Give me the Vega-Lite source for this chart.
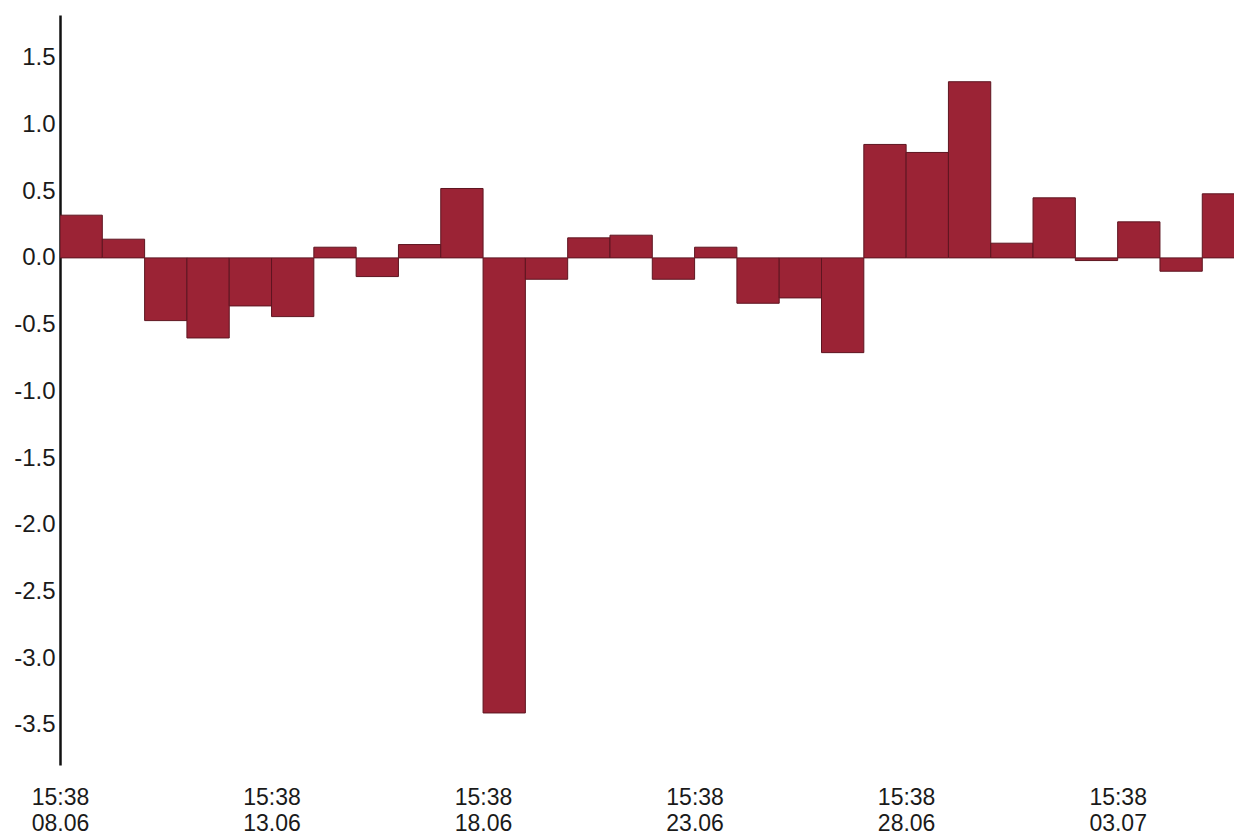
{
  "$schema": "https://vega.github.io/schema/vega-lite/v6.json",
  "width": 1174,
  "height": 750,
  "autosize": {"type": "none"},
  "padding": {"left": 60, "top": 15, "right": 0, "bottom": 69},
  "background": "white",
  "config": {"view": {"stroke": null}, "font": "Liberation Sans"},
  "data": {"values": [
    {"start": "2020-06-08T15:38", "end": "2020-06-09T15:38", "value": 0.32},
    {"start": "2020-06-09T15:38", "end": "2020-06-10T15:38", "value": 0.14},
    {"start": "2020-06-10T15:38", "end": "2020-06-11T15:38", "value": -0.47},
    {"start": "2020-06-11T15:38", "end": "2020-06-12T15:38", "value": -0.60},
    {"start": "2020-06-12T15:38", "end": "2020-06-13T15:38", "value": -0.36},
    {"start": "2020-06-13T15:38", "end": "2020-06-14T15:38", "value": -0.44},
    {"start": "2020-06-14T15:38", "end": "2020-06-15T15:38", "value": 0.08},
    {"start": "2020-06-15T15:38", "end": "2020-06-16T15:38", "value": -0.14},
    {"start": "2020-06-16T15:38", "end": "2020-06-17T15:38", "value": 0.10},
    {"start": "2020-06-17T15:38", "end": "2020-06-18T15:38", "value": 0.52},
    {"start": "2020-06-18T15:38", "end": "2020-06-19T15:38", "value": -3.41},
    {"start": "2020-06-19T15:38", "end": "2020-06-20T15:38", "value": -0.16},
    {"start": "2020-06-20T15:38", "end": "2020-06-21T15:38", "value": 0.15},
    {"start": "2020-06-21T15:38", "end": "2020-06-22T15:38", "value": 0.17},
    {"start": "2020-06-22T15:38", "end": "2020-06-23T15:38", "value": -0.16},
    {"start": "2020-06-23T15:38", "end": "2020-06-24T15:38", "value": 0.08},
    {"start": "2020-06-24T15:38", "end": "2020-06-25T15:38", "value": -0.34},
    {"start": "2020-06-25T15:38", "end": "2020-06-26T15:38", "value": -0.30},
    {"start": "2020-06-26T15:38", "end": "2020-06-27T15:38", "value": -0.71},
    {"start": "2020-06-27T15:38", "end": "2020-06-28T15:38", "value": 0.85},
    {"start": "2020-06-28T15:38", "end": "2020-06-29T15:38", "value": 0.79},
    {"start": "2020-06-29T15:38", "end": "2020-06-30T15:38", "value": 1.32},
    {"start": "2020-06-30T15:38", "end": "2020-07-01T15:38", "value": 0.11},
    {"start": "2020-07-01T15:38", "end": "2020-07-02T15:38", "value": 0.45},
    {"start": "2020-07-02T15:38", "end": "2020-07-03T15:38", "value": -0.02},
    {"start": "2020-07-03T15:38", "end": "2020-07-04T15:38", "value": 0.27},
    {"start": "2020-07-04T15:38", "end": "2020-07-05T15:38", "value": -0.10},
    {"start": "2020-07-05T15:38", "end": "2020-07-06T15:38", "value": 0.48}
  ]},
  "mark": {"type": "rect", "clip": true, "fill": "#9b2335", "stroke": "#5e1520", "strokeWidth": 1},
  "encoding": {
    "x": {
      "field": "start", "type": "temporal", "title": null,
      "scale": {"domain": [
        {"year": 2020, "month": 6, "date": 8, "hours": 15, "minutes": 38},
        {"year": 2020, "month": 7, "date": 6, "hours": 9, "minutes": 38}
      ]},
      "axis": {
        "domain": false, "ticks": false, "grid": false,
        "values": [
          {"year": 2020, "month": 6, "date": 8, "hours": 15, "minutes": 38},
          {"year": 2020, "month": 6, "date": 13, "hours": 15, "minutes": 38},
          {"year": 2020, "month": 6, "date": 18, "hours": 15, "minutes": 38},
          {"year": 2020, "month": 6, "date": 23, "hours": 15, "minutes": 38},
          {"year": 2020, "month": 6, "date": 28, "hours": 15, "minutes": 38},
          {"year": 2020, "month": 7, "date": 3, "hours": 15, "minutes": 38}
        ],
        "labelExpr": "[timeFormat(datum.value, '%H:%M'), timeFormat(datum.value, '%d.%m')]",
        "labelFontSize": 23, "labelColor": "#1a1a1a", "labelLineHeight": 26,
        "labelPadding": 21, "labelFlush": false, "labelOverlap": false, "labelAlign": "center"
      }
    },
    "x2": {"field": "end"},
    "y": {
      "field": "value", "type": "quantitative", "title": null,
      "scale": {"domain": [-3.8, 1.82], "nice": false, "zero": true},
      "axis": {
        "values": [-3.5, -3.0, -2.5, -2.0, -1.5, -1.0, -0.5, 0.0, 0.5, 1.0, 1.5],
        "format": ".1f",
        "labelExpr": "replace(datum.label, '−', '-')",
        "grid": false, "ticks": false,
        "domainColor": "#111111", "domainWidth": 2.5,
        "labelFontSize": 24, "labelColor": "#1a1a1a", "labelPadding": 5,
        "labelFlush": false, "labelOverlap": false
      }
    },
    "y2": {"datum": 0}
  }
}
